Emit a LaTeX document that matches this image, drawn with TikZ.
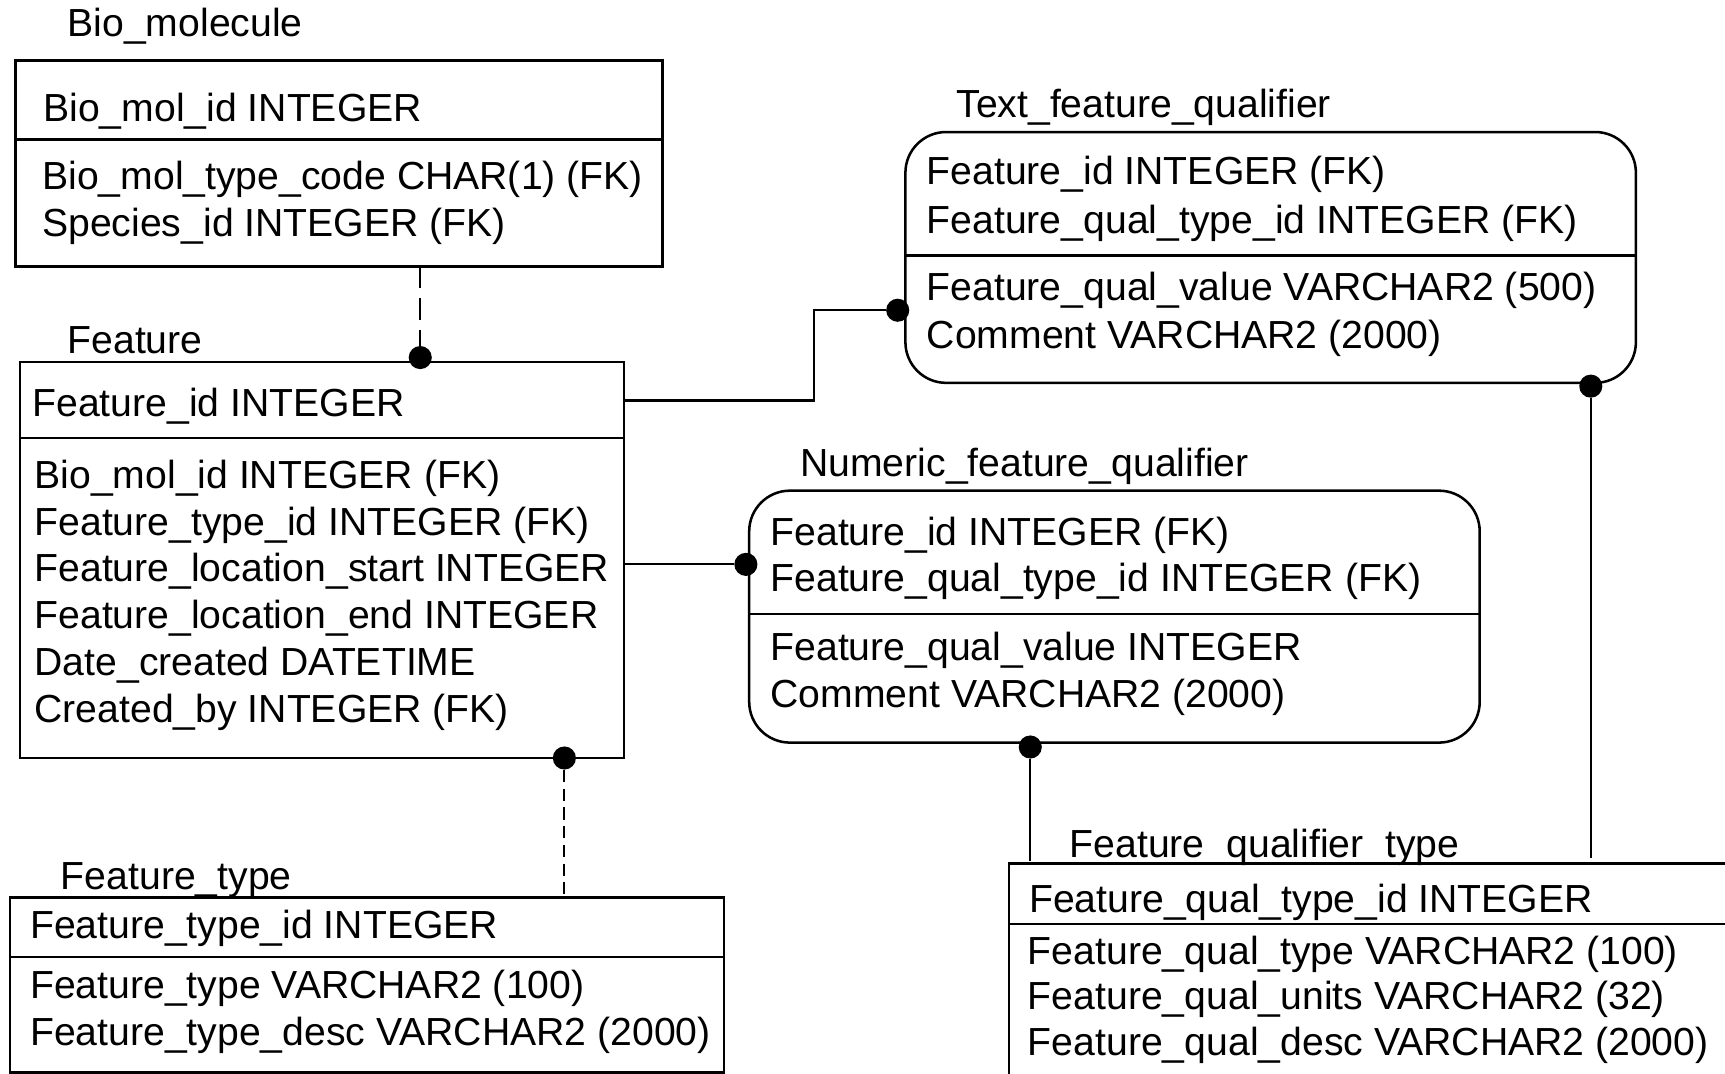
\documentclass[tikz,border=0pt]{standalone}
\usepackage{fontspec}
\setmainfont{Liberation Sans}
\usetikzlibrary{calc}
\begin{document}
\begin{tikzpicture}[x=0.5pt,y=-0.5pt,
  every node/.style={font=\fontsize{17.8pt}{21pt}\selectfont},
  box/.style={draw,line width=1.15pt,rectangle,inner sep=0pt,outer sep=0pt,anchor=north west},
  rbox/.style={box,rounded corners=18.5pt},
  row/.style={anchor=base west,inner sep=0pt},
  title/.style={anchor=base west,inner sep=0pt},
  sep/.style={line width=1.15pt},
  link/.style={line width=1pt},
  dot/.style={circle,fill=black,draw=none,inner sep=0pt,minimum size=10.5pt},
  longdash/.style={link,dash pattern=on 10pt off 4.5pt},
  shortdash/.style={link,dash pattern=on 5.5pt off 3pt}]

% page frame
\useasboundingbox (0,0) rectangle (1568,976);
\fill[white] (0,0) rectangle (1568,976);
\clip (0,0) rectangle (1568,976);

% ---------- Bio_molecule ----------
\node[title] (biomolT) at (61,33.5) {Bio\_molecule};
\node[box,minimum width=294pt,minimum height=93.5pt] (biomol) at (14,55) {};
\draw[sep] ($(biomol.north west)+(0,72)$) -- ($(biomol.north east)+(0,72)$);
\node[row] (biomol1) at (39,110.5) {Bio\_mol\_id INTEGER};
\node[row] (biomol2) at (38,172) {Bio\_mol\_type\_code CHAR(1) (FK)};
\node[row] (biomol3) at (38,215) {Species\_id INTEGER (FK)};

% ---------- Feature ----------
\node[title] (featureT) at (61,321.5) {Feature};
\node[box,minimum width=274.5pt,minimum height=180pt] (feature) at (18,329) {};
\draw[sep] ($(feature.north west)+(0,69)$) -- ($(feature.north east)+(0,69)$);
\node[row] (feature1) at (29,378.5) {Feature\_id INTEGER};
\node[row] (feature2) at (31,444) {Bio\_mol\_id INTEGER (FK)};
\node[row] (feature3) at (31,486.5) {Feature\_type\_id INTEGER (FK)};
\node[row] (feature4) at (31,529) {Feature\_location\_start INTEGER};
\node[row] (feature5) at (31,571.5) {Feature\_location\_end INTEGER};
\node[row] (feature6) at (31,614) {Date\_created DATETIME};
\node[row] (feature7) at (31,656.5) {Created\_by INTEGER (FK)};

% ---------- Text_feature_qualifier ----------
\node[title] (tfqT) at (869,107) {Text\_feature\_qualifier};
\node[rbox,minimum width=332pt,minimum height=114pt] (tfq) at (823,120) {};
\draw[sep] ($(tfq.north west)+(0,112)$) -- ($(tfq.north east)+(0,112)$);
\node[row] (tfq1) at (842,168) {Feature\_id INTEGER (FK)};
\node[row] (tfq2) at (842,212) {Feature\_qual\_type\_id INTEGER (FK)};
\node[row] (tfq3) at (842,273) {Feature\_qual\_value VARCHAR2 (500)};
\node[row] (tfq4) at (842,316.5) {Comment VARCHAR2 (2000)};

% ---------- Numeric_feature_qualifier ----------
\node[title] (nfqT) at (727,433) {Numeric\_feature\_qualifier};
\node[rbox,minimum width=332pt,minimum height=114.5pt] (nfq) at (681,446) {};
\draw[sep] ($(nfq.north west)+(0,112)$) -- ($(nfq.north east)+(0,112)$);
\node[row] (nfq1) at (700,495.5) {Feature\_id INTEGER (FK)};
\node[row] (nfq2) at (700,538) {Feature\_qual\_type\_id INTEGER (FK)};
\node[row] (nfq3) at (700,600) {Feature\_qual\_value INTEGER};
\node[row] (nfq4) at (700,643) {Comment VARCHAR2 (2000)};

% ---------- Feature_type ----------
\node[title] (ftypeT) at (55,808.5) {Feature\_type};
\node[box,minimum width=324.5pt,minimum height=79.5pt] (ftype) at (9,816) {};
\draw[sep] ($(ftype.north west)+(0,54)$) -- ($(ftype.north east)+(0,54)$);
\node[row] (ftype1) at (27,853) {Feature\_type\_id INTEGER};
\node[row] (ftype2) at (27,907.5) {Feature\_type VARCHAR2 (100)};
\node[row] (ftype3) at (27,950) {Feature\_type\_desc VARCHAR2 (2000)};

% ---------- Feature_qualifier_type ----------
\node[title] (fqtT) at (972,779.5) {Feature\_qualifier\_type};
\node[box,minimum width=350pt,minimum height=125pt] (fqt) at (917,785) {};
\draw[sep] ($(fqt.north west)+(0,55)$) -- ($(fqt.north east)+(0,55)$);
\node[row] (fqt1) at (935,829) {Feature\_qual\_type\_id INTEGER};
\node[row] (fqt2) at (934,876.5) {Feature\_qual\_type VARCHAR2 (100)};
\node[row] (fqt3) at (934,918) {Feature\_qual\_units VARCHAR2 (32)};
\node[row] (fqt4) at (934,959) {Feature\_qual\_desc VARCHAR2 (2000)};

% ---------- relationships ----------
% Bio_molecule -> Feature
\node[dot] (d1) at ($(feature.north west)+(364,-4)$) {};
\draw[longdash] (d1 |- biomol.south) -- (d1);

% Feature -> Text_feature_qualifier
\coordinate (bend) at (740,364);
\node[dot] (d2) at ($(tfq.north west)+(-7,162)$) {};
\draw[link] (feature.east |- bend) -- (bend) |- (d2);

% Feature -> Numeric_feature_qualifier
\node[dot] (d3) at ($(nfq.north west)+(-3,67)$) {};
\draw[link] (feature.east |- d3) -- (d3);

% Feature -> Feature_type
\node[dot] (d4) at ($(feature.south west)+(495,0)$) {};
\draw[shortdash] (d4) -- (d4 |- ftype.north);

% Feature_qualifier_type -> Numeric_feature_qualifier
\node[dot] (d5) at ($(nfq.south west)+(255.5,4)$) {};
\draw[link] (d5) -- ($(d5 |- fqt.north)+(0,-2)$);

% Feature_qualifier_type -> Text_feature_qualifier
\node[dot] (d6) at ($(tfq.south west)+(623,3)$) {};
\draw[link] (d6) -- ($(d6 |- fqt.north)+(0,-5)$);

\end{tikzpicture}
\end{document}
